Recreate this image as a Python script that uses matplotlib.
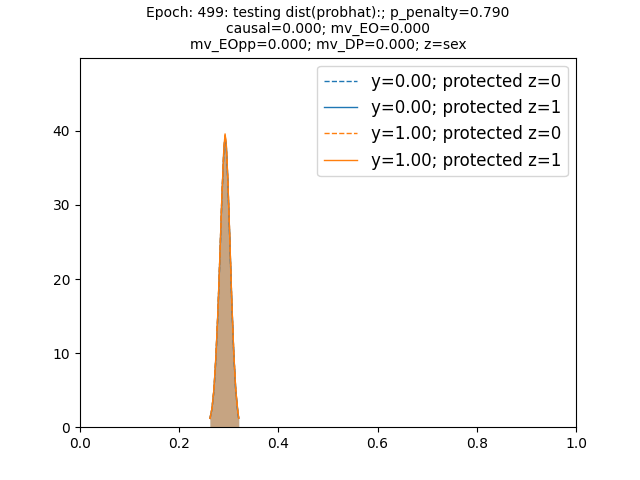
import numpy as np
from matplotlib import pyplot as plt

# density curves (x = probhat, y = density)
x_grid = [0.262, 0.266, 0.270, 0.274, 0.278, 0.282, 0.286, 0.290, 0.2925,
          0.295, 0.298, 0.302, 0.306, 0.310, 0.314, 0.318, 0.320]
dens_y0_z0 = [1.1, 2.4, 4.9, 9.3, 15.3, 22.8, 30.8, 37.2, 39.2,
              37.8, 33.3, 25.3, 16.8, 9.9, 4.9, 2.1, 1.1]
dens_y0_z1 = [1.2, 2.5, 5.0, 9.4, 15.4, 22.9, 30.9, 37.4, 39.3,
              37.9, 33.4, 25.4, 16.9, 10.0, 5.0, 2.2, 1.2]
dens_y1_z0 = [1.1, 2.5, 5.0, 9.5, 15.5, 23.0, 31.0, 37.5, 39.5,
              38.0, 33.5, 25.5, 17.0, 10.0, 5.0, 2.2, 1.2]
dens_y1_z1 = [1.2, 2.5, 5.1, 9.6, 15.6, 23.1, 31.1, 37.6, 39.6,
              38.1, 33.6, 25.6, 17.1, 10.1, 5.1, 2.3, 1.2]

labels = ["y=0.00; protected z=0", "y=0.00; protected z=1",
          "y=1.00; protected z=0", "y=1.00; protected z=1"]
series = [dens_y0_z0, dens_y0_z1, dens_y1_z0, dens_y1_z1]
colors = ["#1f77b4", "#1f77b4", "#ff7f0e", "#ff7f0e"]
styles = ["--", "-", "--", "-"]

fig, ax = plt.subplots(figsize=(6.4, 4.8), dpi=100)
for dens, lab, col, ls in zip(series, labels, colors, styles):
    ax.fill_between(x_grid, dens, color=col, alpha=0.25, linewidth=0)
    ax.plot(x_grid, dens, color=col, linestyle=ls, linewidth=1, label=lab)

ax.set_xlim(0, 1)
ax.set_ylim(0, 49.9)
ax.set_title("Epoch: 499: testing dist(probhat):; p_penalty=0.790\n"
             "causal=0.000; mv_EO=0.000\n"
             "mv_EOpp=0.000; mv_DP=0.000; z=sex", fontsize=10)
ax.legend(fontsize=12, loc="upper right")
plt.savefig("out.png")
